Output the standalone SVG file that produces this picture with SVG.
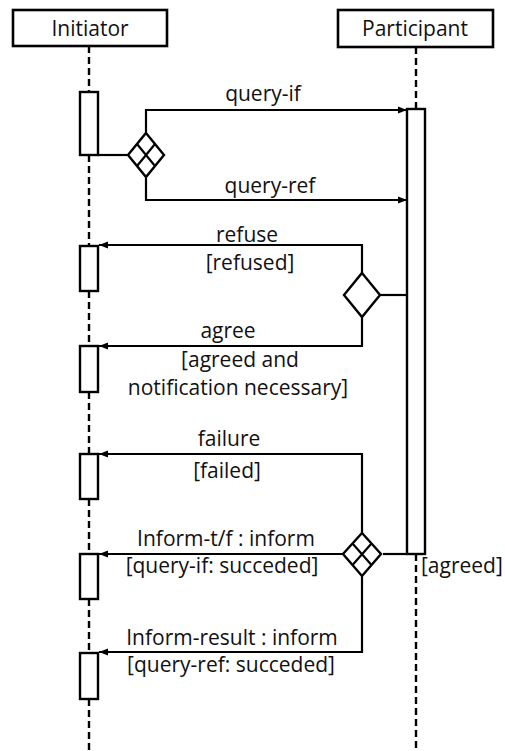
<svg xmlns="http://www.w3.org/2000/svg" width="505" height="751" viewBox="0 0 505 751">
<defs>
<marker id="ah" markerWidth="9" markerHeight="8" refX="9" refY="4" orient="auto" markerUnits="userSpaceOnUse">
<path d="M0,0.6 L9,4 L0,7.4 Z" fill="#000"/>
</marker>
</defs>
<style>
.box{fill:#fff;stroke:#000;stroke-width:2.6}
.act{fill:#fff;stroke:#000;stroke-width:2.4}
.life{stroke:#000;stroke-width:2.4;stroke-dasharray:7 4;fill:none}
.ln{stroke:#000;stroke-width:2.2;fill:none}
.dia{fill:#fff;stroke:#000;stroke-width:2.4}
text{font-family:"Open Sans","Noto Sans","Liberation Sans",sans-serif;font-size:21px;fill:#111}
.c{text-anchor:middle}
</style>
<rect width="505" height="751" fill="#fff"/>
<g id="lifelines">
<line class="life" x1="89" y1="46" x2="89" y2="92"/>
<line class="life" x1="89" y1="155" x2="89" y2="246"/>
<line class="life" x1="89" y1="291" x2="89" y2="346"/>
<line class="life" x1="89" y1="392" x2="89" y2="454"/>
<line class="life" x1="89" y1="499" x2="89" y2="554"/>
<line class="life" x1="89" y1="599" x2="89" y2="653"/>
<line class="life" x1="89" y1="699" x2="89" y2="751"/>
<line class="life" x1="416" y1="47" x2="416" y2="109"/>
<line class="life" x1="416" y1="554" x2="416" y2="751"/>
</g>
<g id="initiator">
<rect class="box" x="13" y="10" width="154" height="36"/>
<text class="c" x="90" y="36">Initiator</text>
</g>
<g id="participant">
<rect class="box" x="338" y="10" width="155" height="37"/>
<text class="c" x="415" y="36">Participant</text>
</g>
<g id="activations">
<rect class="act" x="80" y="92" width="18" height="63"/>
<rect class="act" x="407" y="109" width="18" height="445"/>
<rect class="act" x="80" y="246" width="18" height="45"/>
<rect class="act" x="80" y="346" width="18" height="46"/>
<rect class="act" x="80" y="454" width="18" height="45"/>
<rect class="act" x="80" y="554" width="18" height="45"/>
<rect class="act" x="80" y="653" width="18" height="46"/>
</g>
<g id="connectors">
<path class="ln" d="M98,155 H127"/>
<path class="ln" d="M146,132 V110 H407" marker-end="url(#ah)"/>
<path class="ln" d="M146,178 V200 H407" marker-end="url(#ah)"/>
<path class="ln" d="M407,295 H380"/>
<path class="ln" d="M362,273 V245 H99" marker-end="url(#ah)"/>
<path class="ln" d="M362,317 V346 H99" marker-end="url(#ah)"/>
<path class="ln" d="M407,554 H383"/>
<path class="ln" d="M362,533 V454 H99" marker-end="url(#ah)"/>
<path class="ln" d="M344,554 H99" marker-end="url(#ah)"/>
<path class="ln" d="M362,576 V652 H99" marker-end="url(#ah)"/>
</g>
<g id="decision1">
<path class="dia" d="M146,133 L164,155 L146,177 L128,155 Z"/>
<path class="ln" d="M137,144 L155,166 M155,144 L137,166"/>
</g>
<g id="decision2">
<path class="dia" d="M362,273 L380,295 L362,317 L344,295 Z"/>
</g>
<g id="decision3">
<path class="dia" d="M362,533 L381,554 L362,576 L343,554 Z"/>
<path class="ln" d="M352.5,543.5 L371.5,565 M371.5,543.5 L352.5,565"/>
</g>
<g id="labels">
<text class="c" x="263" y="101">query-if</text>
<text class="c" x="270" y="193">query-ref</text>
<text class="c" x="247" y="242">refuse</text>
<text class="c" x="250" y="270">[refused]</text>
<text class="c" x="228" y="338">agree</text>
<text class="c" x="240" y="367">[agreed and</text>
<text class="c" x="238" y="395">notification necessary]</text>
<text class="c" x="229" y="446">failure</text>
<text class="c" x="227" y="478">[failed]</text>
<text class="c" x="226" y="546">Inform-t/f : inform</text>
<text class="c" x="222" y="573">[query-if: succeded]</text>
<text x="421" y="573">[agreed]</text>
<text class="c" x="232" y="645">Inform-result : inform</text>
<text class="c" x="231" y="672">[query-ref: succeded]</text>
</g>
</svg>
